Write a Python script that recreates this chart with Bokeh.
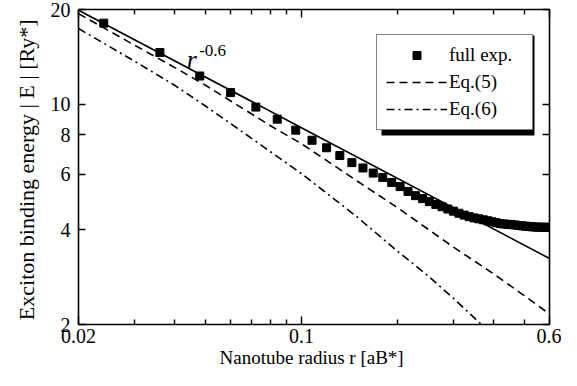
from bokeh.plotting import figure
from bokeh.models import (LogAxis, FixedTicker, CustomJSTickFormatter, Legend,
                          LegendItem, Label, BoxAnnotation)
from bokeh.embed import file_html
from bokeh.resources import INLINE

# ---------------- data ----------------
exp_r = [0.024, 0.036, 0.048, 0.060, 0.072, 0.084, 0.096, 0.108, 0.120, 0.132,
         0.144, 0.156, 0.168, 0.180, 0.192, 0.204, 0.216, 0.228, 0.240, 0.252,
         0.264, 0.276, 0.288, 0.300, 0.312, 0.324, 0.336, 0.348, 0.360, 0.372,
         0.384, 0.396, 0.408, 0.420, 0.432, 0.444, 0.456, 0.468, 0.480, 0.492,
         0.504, 0.516, 0.528, 0.540, 0.552, 0.564, 0.576, 0.588, 0.600]
exp_E = [18.1, 14.6, 12.3, 10.9, 9.8, 8.97, 8.28, 7.69, 7.28, 6.88,
         6.53, 6.28, 6.05, 5.86, 5.65, 5.48, 5.29, 5.13, 5.02, 4.91,
         4.81, 4.73, 4.65, 4.58, 4.51, 4.45, 4.40, 4.36, 4.33, 4.30,
         4.27, 4.24, 4.21, 4.18, 4.17, 4.16, 4.15, 4.14, 4.125, 4.115,
         4.105, 4.095, 4.085, 4.08, 4.075, 4.073, 4.071, 4.07, 4.07]

fit_r = [0.02, 0.1, 0.6]
fit_E = [19.9, 8.43, 3.24]

eq5_r = [0.02, 0.03, 0.04, 0.05, 0.06, 0.08, 0.1, 0.15, 0.2, 0.3, 0.4, 0.5, 0.6]
eq5_E = [19.4, 15.4, 13.1, 11.5, 10.25, 8.55, 7.5, 5.7, 4.7, 3.52, 2.9, 2.47, 2.16]

eq6_r = [0.02, 0.03, 0.04, 0.05, 0.06, 0.08, 0.1, 0.15, 0.2, 0.25, 0.3, 0.37]
eq6_E = [17.4, 13.7, 11.5, 9.88, 8.69, 7.07, 6.03, 4.38, 3.42, 2.85, 2.42, 1.985]

x_major = [0.02, 0.1, 0.6]
x_minor = [0.03, 0.04, 0.05, 0.06, 0.07, 0.08, 0.09, 0.2, 0.3, 0.4, 0.5]
y_ticks = [2, 4, 6, 8, 10, 20]

x_title = "Nanotube radius r  [aB*]"
y_title = "Exciton binding energy | E |  [Ry*]"
series_names = ["full exp.", "Eq.(5)", "Eq.(6)"]

SERIF = "Liberation Serif"

# ---------------- figure ----------------
p = figure(width=561, height=370, x_axis_type="log", y_axis_type="log",
           x_range=(0.02, 0.6), y_range=(2, 20),
           output_backend="svg", toolbar_location=None,
           min_border_left=78, min_border_right=12,
           min_border_top=9, min_border_bottom=46)
p.grid.visible = False
p.outline_line_color = None
p.background_fill_color = "white"
p.border_fill_color = "white"

fmt = CustomJSTickFormatter(code="return String(tick)")
blank = CustomJSTickFormatter(code="return ''")


def style_axis(ax, ticker, show_labels):
    ax.ticker = ticker
    ax.axis_line_color = "black"
    ax.axis_line_width = 1.6
    ax.major_tick_line_color = "black"
    ax.major_tick_line_width = 1.4
    ax.minor_tick_line_color = "black"
    ax.minor_tick_line_width = 1.4
    ax.major_tick_out = 0
    ax.minor_tick_out = 0
    ax.major_tick_in = 8
    ax.minor_tick_in = 5
    ax.major_label_text_font = SERIF
    ax.major_label_text_font_size = "20px"
    ax.major_label_text_color = "black"
    if show_labels:
        ax.formatter = fmt
        ax.major_label_standoff = 4
    else:
        ax.formatter = blank
        ax.major_label_standoff = 0


style_axis(p.xaxis[0], FixedTicker(ticks=x_major, minor_ticks=x_minor), True)
style_axis(p.yaxis[0], FixedTicker(ticks=y_ticks, minor_ticks=[]), True)
p.yaxis[0].major_tick_in = 7
p.yaxis[0].major_label_standoff = 8

xa = p.xaxis[0]
xa.axis_label = x_title
xa.axis_label_text_font = SERIF
xa.axis_label_text_font_size = "19px"
xa.axis_label_text_font_style = "normal"
xa.axis_label_text_color = "black"
xa.axis_label_standoff = 1

ya = p.yaxis[0]
ya.axis_label = y_title
ya.axis_label_text_font = SERIF
ya.axis_label_text_font_size = "22px"
ya.axis_label_text_font_style = "normal"
ya.axis_label_text_color = "black"
ya.axis_label_standoff = 9

top = LogAxis()
style_axis(top, FixedTicker(ticks=x_major, minor_ticks=x_minor), False)
p.add_layout(top, "above")
right = LogAxis()
style_axis(right, FixedTicker(ticks=y_ticks, minor_ticks=[]), False)
right.major_tick_in = 7
p.add_layout(right, "right")

# ---------------- data glyphs ----------------
l_fit = p.line(fit_r, fit_E, line_color="black", line_width=1.6)
l5 = p.line(eq5_r, eq5_E, line_color="black", line_width=1.6, line_dash="8 5")
l6 = p.line(eq6_r, eq6_E, line_color="black", line_width=1.6, line_dash="8 4 2 4")
sc = p.scatter(exp_r, exp_E, marker="square", size=8, fill_color="black",
               line_color="black")

# ---------------- legend with drop shadow ----------------
LEG_X, LEG_Y, LEG_W, LEG_H = 298, 194, 153, 100
shadow = BoxAnnotation(left=LEG_X + 5, right=LEG_X + 5 + LEG_W,
                       bottom=LEG_Y - 5, top=LEG_Y - 5 + LEG_H,
                       left_units="screen", right_units="screen",
                       bottom_units="screen", top_units="screen",
                       fill_color="black", fill_alpha=1.0, line_color=None)
p.add_layout(shadow)

legend = Legend(items=[LegendItem(label=series_names[0], renderers=[sc]),
                       LegendItem(label=series_names[1], renderers=[l5]),
                       LegendItem(label=series_names[2], renderers=[l6])],
                location=(LEG_X, LEG_Y))
legend.border_line_color = "black"
legend.border_line_width = 1.5
legend.background_fill_color = "white"
legend.background_fill_alpha = 1.0
legend.label_text_font = SERIF
legend.label_text_font_size = "19px"
legend.label_text_color = "black"
legend.glyph_width = 61
legend.glyph_height = 20
legend.label_height = 20
legend.label_width = 74
legend.label_standoff = 2
legend.spacing = 5
legend.padding = 9
legend.margin = 0
p.add_layout(legend)

# r^-0.6 annotation next to the solid line
p.add_layout(Label(x=0.0437, y=13.9, text="r", text_font=SERIF,
                   text_font_size="26px", text_font_style="italic",
                   text_color="black", text_baseline="alphabetic"))
p.add_layout(Label(x=0.0478, y=14.8, text="-0.6", text_font=SERIF,
                   text_font_size="17px", text_color="black",
                   text_baseline="alphabetic"))

open("out.html", "w").write(file_html(p, INLINE))
